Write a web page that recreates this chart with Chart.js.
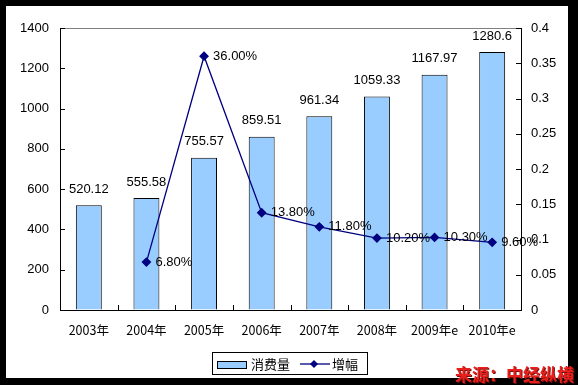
<!DOCTYPE html>
<html>
<head>
<meta charset="utf-8">
<script src="https://cdn.jsdelivr.net/npm/chart.js@4"></script>
<style>
  html, body { margin: 0; padding: 0; }
  body { width: 578px; height: 385px; background: #000; position: relative; overflow: hidden; }
  #wrap { position: absolute; left: 6px; top: 6px; width: 562px; height: 372px; background: #fff; }
  #source { position: absolute; left: 455px; top: 361px; font: bold 17px "Noto Sans CJK SC", sans-serif;
            color: #e8201c; text-shadow: 1px 1px 0 #7a1010; white-space: nowrap; letter-spacing: 0px; }
</style>
</head>
<body>
<div id="wrap"><canvas id="consumo" width="562" height="372"></canvas></div>
<div id="source">来源：中经纵横</div>
<script>
const years = ['2003年', '2004年', '2005年', '2006年', '2007年', '2008年', '2009年e', '2010年e'];
const consumption = [520.12, 555.58, 755.57, 859.51, 961.34, 1059.33, 1167.97, 1280.6];
const growth = [null, 0.068, 0.36, 0.138, 0.118, 0.102, 0.103, 0.096];
const growthLabels = [null, '6.80%', '36.00%', '13.80%', '11.80%', '10.20%', '10.30%', '9.60%'];

const numFont = { family: '"Liberation Sans", Arial, sans-serif', size: 13 };

// value labels, inner tick marks, top border, legend
const extras = {
  id: 'extras',
  afterDatasetsDraw(chart) {
    const ctx = chart.ctx;
    const area = chart.chartArea;
    const x = chart.scales.x, y = chart.scales.y, y1 = chart.scales.y1;
    ctx.save();
    // top border of plot area
    ctx.strokeStyle = '#808080';
    ctx.lineWidth = 1;
    ctx.beginPath();
    ctx.moveTo(area.left, area.top + 0.5);
    ctx.lineTo(area.right, area.top + 0.5);
    ctx.stroke();
    // inner ticks
    ctx.strokeStyle = '#000';
    ctx.beginPath();
    y.ticks.forEach(t => {
      const py = Math.round(y.getPixelForValue(t.value)) + 0.5;
      ctx.moveTo(area.left, py); ctx.lineTo(area.left + 5, py);
    });
    y1.ticks.forEach(t => {
      const py = Math.round(y1.getPixelForValue(t.value)) + 0.5;
      ctx.moveTo(area.right - 5, py); ctx.lineTo(area.right, py);
    });
    for (let i = 1; i < years.length; i++) {
      const px = Math.round((x.getPixelForValue(i - 1) + x.getPixelForValue(i)) / 2) + 0.5;
      ctx.moveTo(px, area.bottom); ctx.lineTo(px, area.bottom - 5);
    }
    ctx.stroke();

    // bar value labels
    ctx.fillStyle = '#000';
    ctx.font = numFont.size + 'px ' + numFont.family;
    ctx.textAlign = 'center';
    ctx.textBaseline = 'middle';
    chart.getDatasetMeta(0).data.forEach((bar, i) => {
      ctx.fillText(String(consumption[i]), bar.x, bar.y - 16);
    });
    // line value labels
    ctx.textAlign = 'left';
    chart.getDatasetMeta(1).data.forEach((pt, i) => {
      if (growth[i] === null) return;
      ctx.fillText(growthLabels[i], pt.x + 9, pt.y);
    });

    // legend
    const lx = 206, ly = 346, lw = 155, lh = 22;
    ctx.fillStyle = '#fff';
    ctx.fillRect(lx, ly, lw, lh);
    ctx.strokeStyle = '#000';
    ctx.strokeRect(lx + 0.5, ly + 0.5, lw, lh);
    ctx.fillStyle = '#99ccff';
    ctx.fillRect(211, 355, 29, 7);
    ctx.strokeRect(211.5, 355.5, 29, 7);
    ctx.fillStyle = '#000';
    ctx.font = '13px "Noto Sans CJK SC", sans-serif';
    ctx.fillText('消费量', 245, 358);
    ctx.strokeStyle = '#000080';
    ctx.lineWidth = 1.3;
    ctx.beginPath();
    ctx.moveTo(294, 358); ctx.lineTo(324, 358);
    ctx.stroke();
    ctx.fillStyle = '#000080';
    ctx.beginPath();
    ctx.moveTo(308, 354); ctx.lineTo(312, 358); ctx.lineTo(308, 362); ctx.lineTo(304, 358);
    ctx.closePath(); ctx.fill();
    ctx.fillStyle = '#000';
    ctx.fillText('增幅', 326, 358);
    ctx.restore();
  }
};

const dataConsumo = {
  labels: years,
  datasets: [
    {
      type: 'bar',
      label: '消费量',
      data: consumption,
      yAxisID: 'y',
      backgroundColor: '#99ccff',
      borderColor: '#000',
      borderWidth: 1,
      barPercentage: 0.45,
      categoryPercentage: 1,
      order: 1
    },
    {
      type: 'line',
      label: '增幅',
      data: growth,
      yAxisID: 'y1',
      borderColor: '#000080',
      backgroundColor: '#000080',
      borderWidth: 1.3,
      pointStyle: 'rectRot',
      pointRadius: 4,
      pointHoverRadius: 4,
      tension: 0,
      order: 0
    }
  ]
};

const configConsumo = {
  data: dataConsumo,
  options: {
    responsive: false,
    animation: false,
    devicePixelRatio: 1,
    layout: { padding: { left: 4, right: 7, top: 22, bottom: 0 } },
    plugins: { legend: { display: false }, tooltip: { enabled: false } },
    scales: {
      x: {
        offset: true,
        grid: { color: 'transparent', drawTicks: false },
        border: { color: '#000', width: 1 },
        ticks: { color: '#000', font: { family: '"Noto Sans CJK SC", sans-serif', size: 12.5 }, padding: 13, maxRotation: 0 },
        afterFit(s) { s.height = 68; }
      },
      y: {
        position: 'left',
        min: 0, max: 1400,
        ticks: { stepSize: 200, color: '#000', font: numFont, padding: 11,
                 callback: v => String(v) },
        grid: { color: 'transparent', drawTicks: false },
        border: { color: '#000', width: 1 },
        afterFit(s) { s.width = 50; }
      },
      y1: {
        position: 'right',
        min: 0, max: 0.4,
        ticks: { stepSize: 0.05, color: '#000', font: numFont, padding: 10,
                 callback: v => String(+v.toFixed(2)) },
        grid: { color: 'transparent', drawTicks: false },
        border: { color: '#000', width: 1 },
        afterFit(s) { s.width = 40; }
      }
    }
  },
  plugins: [extras]
};

let consumoChart = new Chart(document.getElementById('consumo'), configConsumo);
</script>
</body>
</html>
